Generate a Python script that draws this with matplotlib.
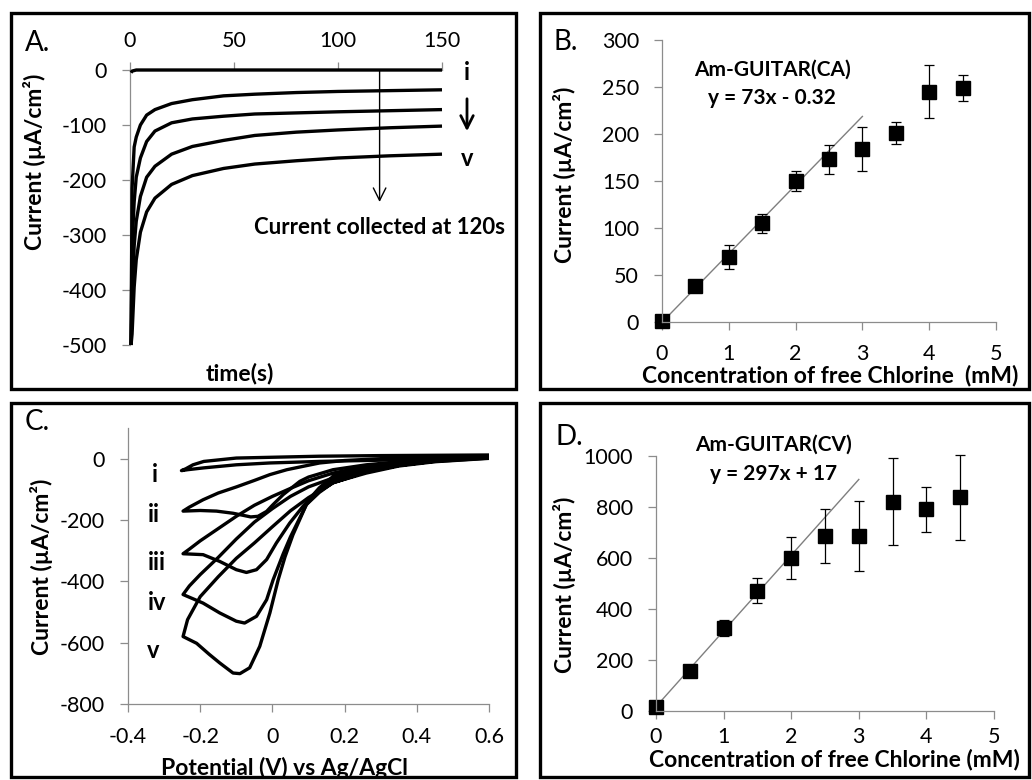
import matplotlib
matplotlib.use("Agg")
import matplotlib.pyplot as plt
from matplotlib.patches import Rectangle, FancyArrowPatch
import numpy as np

plt.rcParams['font.family'] = ['Lato', 'DejaVu Sans']
plt.rcParams['axes.unicode_minus'] = False

W, H = 1032, 780

# ---- Panel A: chronoamperometry ----
time_s = [0.5, 1, 2, 3, 5, 8, 12, 20, 30, 45, 60, 80, 100, 125, 150]
ca_i = [-5, -2, -1, 0, 0, 0, 0, 0, 0, 0, 0, 0, 0, 0, 0]
ca_ii = [-500, -215, -140, -122, -100, -82, -72, -61, -54, -47, -44, -41, -39, -37.5, -36]
ca_iii = [-500, -320, -240, -195, -160, -130, -111, -96, -89, -84, -80, -78, -76, -74, -72]
ca_iv = [-500, -420, -320, -275, -230, -195, -175, -153, -139, -128, -119, -113, -109, -105, -102]
ca_v = [-500, -480, -395, -345, -295, -258, -233, -208, -192, -179, -171, -165, -160, -156, -153]
collect_time = 120

# ---- Panel B: CA calibration ----
conc = [0, 0.5, 1, 1.5, 2, 2.5, 3, 3.5, 4, 4.5]
ca_current = [1, 38, 69, 105, 150, 173, 184, 201, 245, 249]
ca_err = [0, 3, 13, 10, 10.5, 15.5, 23, 11.5, 28, 14]
ca_slope, ca_icpt = 73, -0.32

# ---- Panel C: cyclic voltammetry (lower branch from 0.6 V, then upper branch back) ----
cv_i_v = [0.6, 0.45, 0.3, 0.13, -0.007, -0.1, -0.19, -0.235, -0.252, -0.24, -0.22, -0.19, -0.1, 0.13, 0.3, 0.45, 0.6]
cv_i_c = [5, 0, -5, -9, -14, -20, -30, -36, -39, -33, -20, -9, 2, 8, 10, 11, 12]
cv_ii_v = [0.6, 0.45, 0.35, 0.26, 0.168, 0.1, 0.076, 0.03, 0.0, -0.016, -0.04, -0.06, -0.08, -0.109, -0.155, -0.2, -0.2475,
           -0.23, -0.192, -0.15, -0.0995, -0.05, -0.007, 0.04, 0.085, 0.131, 0.2, 0.3, 0.45, 0.6]
cv_ii_c = [4, -4, -10, -20, -36, -60, -74, -117, -152, -172, -188, -190, -185, -178, -171, -169, -171,
           -158, -134, -112, -92, -71, -52, -36, -25, -14, -6, 0, 5, 9]
cv_iii_v = [0.6, 0.45, 0.35, 0.26, 0.168, 0.13, 0.085, 0.048, 0.011, -0.016, -0.044, -0.072, -0.1, -0.146, -0.192, -0.2475,
            -0.23, -0.2, -0.15, -0.1, -0.05, 0.0, 0.05, 0.1, 0.168, 0.26, 0.35, 0.45, 0.6]
cv_iii_c = [3, -7, -17, -30, -58, -95, -155, -210, -275, -329, -362, -371, -362, -335, -313, -310,
            -295, -268, -228, -188, -152, -123, -97, -72, -47, -25, -12, -2, 9]
cv_iv_v = [0.6, 0.45, 0.35, 0.26, 0.168, 0.13, 0.094, 0.05, 0.03, 0.002, -0.016, -0.044, -0.077, -0.1, -0.146, -0.192, -0.2475,
           -0.23, -0.2, -0.15, -0.1, -0.05, 0.0, 0.05, 0.1, 0.168, 0.26, 0.35, 0.45, 0.6]
cv_iv_c = [2, -9, -20, -39, -68, -100, -150, -255, -310, -395, -460, -514, -536, -530, -503, -471, -443,
           -415, -378, -322, -262, -207, -163, -123, -92, -63, -36, -18, -5, 8]
cv_v_v = [0.6, 0.45, 0.35, 0.26, 0.168, 0.13, 0.094, 0.057, 0.035, 0.016, -0.007, -0.035, -0.063, -0.09, -0.109, -0.146, -0.175, -0.21, -0.2475,
          -0.235, -0.2, -0.15, -0.1, -0.05, 0.0, 0.05, 0.1, 0.168, 0.26, 0.35, 0.45, 0.6]
cv_v_c = [1, -10, -24, -47, -78, -110, -150, -248, -320, -395, -503, -612, -682, -701, -699, -666, -638, -602, -580,
          -525, -450, -385, -325, -275, -222, -170, -127, -79, -43, -22, -8, 7]

# ---- Panel D: CV calibration ----
cv_current = [17, 157, 324, 471, 599, 686, 686, 821, 791, 838]
cv_err = [0, 5, 31, 49, 82, 105, 137, 170, 89, 167]
cv_slope, cv_icpt = 297, 17

fit_x = [0, 3]

AXC = '#8c8c8c'
TICK_FS = 15.5
LAB_FS = 16.5
NOTE_FS = 15
LET_FS = 20


def fx(x):
    return x / W


def fy(y):
    return 1 - y / H


def make_axes(left, right, top, bottom):
    return fig.add_axes([fx(left), fy(bottom), (right - left) / W, (bottom - top) / H])


def style(ax, xpad, ypad=10.5):
    for s in ax.spines.values():
        s.set_color(AXC)
        s.set_linewidth(0.9)
    ax.tick_params(axis='both', colors=AXC, length=6, width=0.9, direction='out',
                   labelsize=TICK_FS, labelcolor='black')
    ax.tick_params(axis='x', pad=xpad)
    ax.tick_params(axis='y', pad=ypad)


def label(x, y, s, size=LAB_FS, bold=True, **kw):
    fig.text(fx(x), fy(y), s, fontsize=size, fontweight='bold' if bold else 'normal',
             ha=kw.pop('ha', 'center'), va='center', **kw)


fig = plt.figure(figsize=(W / 100, H / 100), dpi=100)

# panel frames
for (l, t, r, b) in [(11, 13, 516, 389), (540, 13, 1029, 389), (11, 403, 516, 777), (540, 403, 1029, 777)]:
    fig.add_artist(Rectangle((fx(l), fy(b)), (r - l) / W, (b - t) / H, transform=fig.transFigure,
                             fill=False, edgecolor='black', linewidth=2.4))

# ---------- A ----------
axA = make_axes(130, 442, 70, 345)
for c in [ca_i, ca_ii, ca_iii, ca_iv, ca_v]:
    axA.plot(time_s, c, color='black', lw=2.4, clip_on=False, zorder=3, solid_capstyle='butt')
axA.set_xlim(0, 150)
axA.set_ylim(-500, 0)
axA.xaxis.tick_top()
axA.set_xticks([0, 50, 100, 150])
axA.set_yticks([0, -100, -200, -300, -400, -500])
axA.spines['bottom'].set_visible(False)
axA.spines['right'].set_visible(False)
style(axA, xpad=8)
axA.annotate('', xy=(collect_time, -240), xytext=(collect_time, 0),
             arrowprops=dict(arrowstyle='->,head_length=0.6,head_width=0.3', lw=1, color='black',
                             mutation_scale=15, shrinkA=0, shrinkB=0))
axA.text(collect_time, -287, 'Current collected at 120s', ha='center', va='center',
         fontsize=16, fontweight='bold')
label(25, 43, 'A.', size=LET_FS, bold=False, ha='left')
label(35, 162, 'Current (µA/cm²)', rotation=90)
label(240, 373, 'time(s)')
label(467, 73, 'i', size=17)
label(467, 158, 'v', size=17)
fig.add_artist(FancyArrowPatch((fx(467), fy(96)), (fx(467), fy(134)), transform=fig.transFigure,
                               arrowstyle='->,head_length=0.6,head_width=0.3',
                               mutation_scale=15, lw=2, color='black'))

# ---------- B ----------
axB = make_axes(662, 996, 40, 322)
fxa = np.array(fit_x)
axB.plot(fxa, ca_slope * fxa + ca_icpt, color='#7f7f7f', lw=1)
eb = axB.errorbar(conc, ca_current, yerr=ca_err, fmt='s', color='black', ms=9.5,
                  capsize=3.5, elinewidth=0.9, capthick=0.9)
for art in eb.get_children():
    art.set_clip_on(False)
axB.set_xlim(0, 5)
axB.set_ylim(0, 300)
axB.set_xticks(range(6))
axB.set_yticks(range(0, 301, 50))
axB.spines['top'].set_visible(False)
axB.spines['right'].set_visible(False)
style(axB, xpad=10)
label(554, 42, 'B.', size=LET_FS, bold=False, ha='left')
label(772, 70, 'Am-GUITAR(CA)', size=NOTE_FS)
label(772, 98, 'y = 73x - 0.32', size=NOTE_FS)
label(565, 175, 'Current (µA/cm²)', rotation=90)
label(830, 375, 'Concentration of free Chlorine  (mM)')

# ---------- C ----------
axC = make_axes(128, 489, 428, 704)
for vv, cc in [(cv_i_v, cv_i_c), (cv_ii_v, cv_ii_c), (cv_iii_v, cv_iii_c), (cv_iv_v, cv_iv_c), (cv_v_v, cv_v_c)]:
    axC.plot(vv, cc, color='black', lw=2.4, solid_joinstyle='round')
axC.set_xlim(-0.4, 0.6)
axC.set_ylim(-800, 100)
axC.set_xticks([-0.4, -0.2, 0, 0.2, 0.4, 0.6])
axC.set_xticklabels(['-0.4', '-0.2', '0', '0.2', '0.4', '0.6'])
axC.set_yticks([-800, -600, -400, -200, 0])
axC.spines['top'].set_visible(False)
axC.spines['right'].set_visible(False)
style(axC, xpad=10.5)
label(25, 422, 'C.', size=LET_FS, bold=False, ha='left')
label(42, 567, 'Current (µA/cm²)', rotation=90)
label(284, 768, 'Potential (V) vs Ag/AgCl')
for lab, lx, ly in [('i', 155, 475), ('ii', 154, 515), ('iii', 157, 563), ('iv', 157, 603), ('v', 153, 650)]:
    label(lx, ly, lab, size=17)

# ---------- D ----------
axD = make_axes(656, 994, 456, 711)
axD.plot(fxa, cv_slope * fxa + cv_icpt, color='#7f7f7f', lw=1)
eb = axD.errorbar(conc, cv_current, yerr=cv_err, fmt='s', color='black', ms=9.5,
                  capsize=3.5, elinewidth=0.9, capthick=0.9)
for art in eb.get_children():
    art.set_clip_on(False)
axD.set_xlim(0, 5)
axD.set_ylim(0, 1000)
axD.set_xticks(range(6))
axD.set_yticks(range(0, 1001, 200))
axD.spines['top'].set_visible(False)
axD.spines['right'].set_visible(False)
style(axD, xpad=5.5)
label(555, 437, 'D.', size=LET_FS, bold=False, ha='left')
label(773, 445, 'Am-GUITAR(CV)', size=NOTE_FS)
label(774, 474, 'y = 297x + 17', size=NOTE_FS)
label(565, 585, 'Current (µA/cm²)', rotation=90)
label(834, 759, 'Concentration of free Chlorine (mM)')

fig.savefig('out.png', dpi=100)
